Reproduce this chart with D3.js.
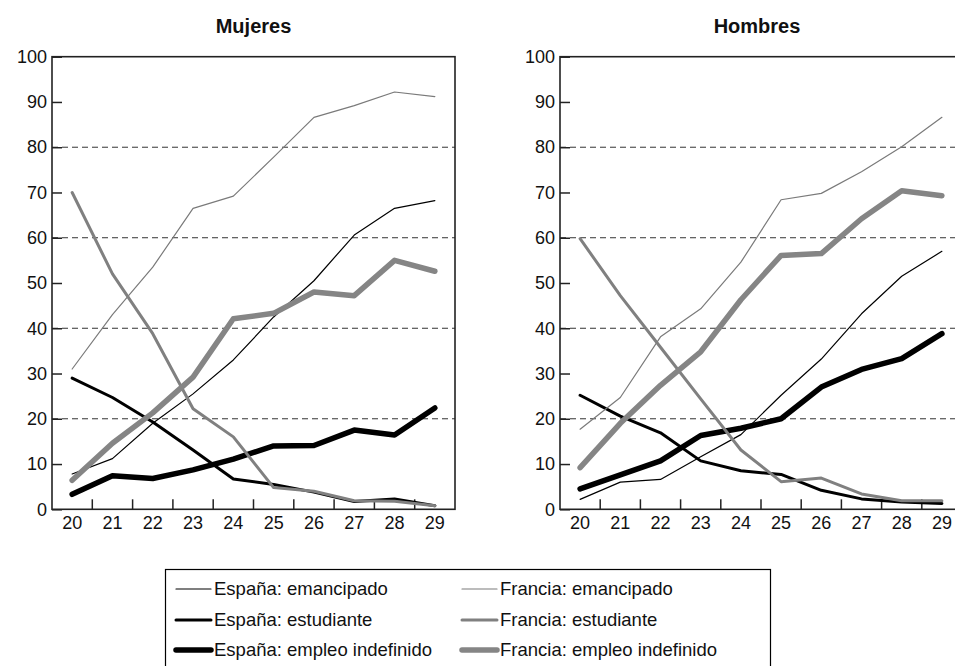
<!DOCTYPE html>
<html>
<head>
<meta charset="utf-8">
<script src="https://cdn.jsdelivr.net/npm/d3@7"></script>
<style>
  body { margin: 0; background: #fff; }
  svg { display: block; font-family: "Liberation Sans", Arial, sans-serif; }
</style>
</head>
<body>
<div id="chart"></div>
<script>
  // ages on the x axis
  var ages = [20, 21, 22, 23, 24, 25, 26, 27, 28, 29];
  var yTicks = [0, 10, 20, 30, 40, 50, 60, 70, 80, 90, 100];
  var gridValues = [20, 40, 60, 80];

  // Mujeres
  var mujEspEmancipado = [7.8, 11.2, 19, 25.5, 33, 42.5, 50.5, 60.6, 66.5, 68.2];
  var mujEspEstudiante = [29, 24.7, 19.3, 13.1, 6.7, 5.5, 3.8, 1.7, 2.3, 0.8];
  var mujEspEmpleo = [3.3, 7.4, 6.8, 8.7, 11.1, 14, 14.1, 17.5, 16.4, 22.4];
  var mujFraEmancipado = [31, 43, 53.5, 66.5, 69.2, 77.8, 86.6, 89.2, 92.2, 91.2];
  var mujFraEstudiante = [70, 52, 38.8, 22.2, 16, 4.8, 4, 1.9, 1.8, 0.8];
  var mujFraEmpleo = [6.4, 14.6, 21.3, 29.2, 42.1, 43.3, 48, 47.2, 55, 52.6];

  // Hombres
  var homEspEmancipado = [2.2, 6, 6.6, 11.6, 16.5, 25.2, 33.2, 43.2, 51.5, 57];
  var homEspEstudiante = [25.2, 20.6, 16.9, 10.7, 8.5, 7.7, 4.2, 2.3, 1.6, 1.3];
  var homEspEmpleo = [4.5, 7.6, 10.7, 16.3, 17.9, 20, 27, 30.9, 33.3, 38.8];
  var homFraEmancipado = [17.7, 24.7, 38.1, 44.3, 54.6, 68.4, 69.8, 74.6, 80.1, 86.6];
  var homFraEstudiante = [59.8, 47.2, 35.8, 24.4, 13.1, 6.1, 6.9, 3.4, 1.9, 1.9];
  var homFraEmpleo = [9.2, 19, 27.4, 34.8, 46.3, 56.1, 56.5, 64.2, 70.4, 69.3];

  var seriesNames = [
    "España: emancipado", "España: estudiante", "España: empleo indefinido",
    "Francia: emancipado", "Francia: estudiante", "Francia: empleo indefinido"
  ];

  var styles = [
    { color: "#000", width: 1.2 },
    { color: "#000", width: 3 },
    { color: "#000", width: 5.5 },
    { color: "#7a7a7a", width: 1.2 },
    { color: "#808080", width: 3 },
    { color: "#858585", width: 5.5 }
  ];

  var panels = [
    { title: "Mujeres", left: 52, right: 455,
      series: [mujEspEmancipado, mujEspEstudiante, mujEspEmpleo, mujFraEmancipado, mujFraEstudiante, mujFraEmpleo] },
    { title: "Hombres", left: 560, right: 962,
      series: [homEspEmancipado, homEspEstudiante, homEspEmpleo, homFraEmancipado, homFraEstudiante, homFraEmpleo] }
  ];

  var W = 955, H = 666;
  var plotTop = 56.7, plotBottom = 509.3;

  var svg = d3.select("#chart").append("svg")
    .attr("width", W)
    .attr("height", H);

  var y = d3.scaleLinear().domain([0, 100]).range([plotBottom, plotTop]);

  panels.forEach(function(p) {
    var x = d3.scaleBand().domain(ages).range([p.left, p.right]).padding(0);
    var cx = function(a) { return x(a) + x.bandwidth() / 2; };

    var g = svg.append("g");

    // dashed grid
    g.selectAll("line.grid")
      .data(gridValues)
      .enter().append("line")
      .attr("class", "grid")
      .attr("x1", p.left)
      .attr("x2", p.right)
      .attr("y1", function(d) { return y(d); })
      .attr("y2", function(d) { return y(d); })
      .attr("stroke", "#333")
      .attr("stroke-width", 1)
      .attr("stroke-dasharray", "6,4");

    // y axis, ticks pointing inward
    var yAxis = g.append("g")
      .attr("transform", "translate(" + p.left + ",0)")
      .call(d3.axisLeft(y).tickValues(yTicks).tickSizeInner(-10).tickSizeOuter(0).tickPadding(5));
    yAxis.select(".domain").remove();
    yAxis.selectAll("line").attr("stroke", "#222").attr("stroke-width", 1.5);
    yAxis.selectAll("text").attr("font-size", 18).attr("fill", "#111")
      .attr("font-family", "Liberation Sans, Arial, sans-serif");

    // x axis labels at category centres
    var xAxis = g.append("g")
      .attr("transform", "translate(0," + plotBottom + ")")
      .call(d3.axisBottom(x).tickSize(0).tickPadding(7));
    xAxis.select(".domain").remove();
    xAxis.selectAll("text").attr("font-size", 18).attr("fill", "#111")
      .attr("font-family", "Liberation Sans, Arial, sans-serif");

    // x ticks between categories, pointing up
    g.selectAll("line.xtick")
      .data(ages.slice(1))
      .enter().append("line")
      .attr("class", "xtick")
      .attr("x1", function(d) { return x(d); })
      .attr("x2", function(d) { return x(d); })
      .attr("y1", plotBottom)
      .attr("y2", plotBottom - 10)
      .attr("stroke", "#222")
      .attr("stroke-width", 1.5);

    // frame
    g.append("rect")
      .attr("x", p.left)
      .attr("y", plotTop)
      .attr("width", p.right - p.left)
      .attr("height", plotBottom - plotTop)
      .attr("fill", "none")
      .attr("stroke", "#222")
      .attr("stroke-width", 1.6);

    // lines
    var line = d3.line()
      .x(function(d, i) { return cx(ages[i]); })
      .y(function(d) { return y(d); });

    p.series.forEach(function(s, k) {
      g.append("path")
        .datum(s)
        .attr("d", line)
        .attr("fill", "none")
        .attr("stroke", styles[k].color)
        .attr("stroke-width", styles[k].width)
        .attr("stroke-linejoin", "round")
        .attr("stroke-linecap", "round");
    });

    // title
    svg.append("text")
      .attr("x", (p.left + p.right) / 2 - (p.title == "Hombres" ? 4 : 0))
      .attr("y", 33)
      .attr("text-anchor", "middle")
      .attr("font-size", 20)
      .attr("font-weight", "bold")
      .attr("fill", "#111")
      .text(p.title);
  });

  // legend
  var legend = svg.append("g");
  legend.append("rect")
    .attr("x", 165.5)
    .attr("y", 569.5)
    .attr("width", 605)
    .attr("height", 120)
    .attr("fill", "none")
    .attr("stroke", "#000")
    .attr("stroke-width", 1.2);

  var colX = [176, 462];
  var rowY = [589, 620, 650];

  seriesNames.forEach(function(name, k) {
    var col = Math.floor(k / 3), row = k % 3;
    var lx = colX[col], ly = rowY[row];
    legend.append("line")
      .attr("x1", lx)
      .attr("x2", lx + 35)
      .attr("y1", ly)
      .attr("y2", ly)
      .attr("stroke", styles[k].color)
      .attr("stroke-width", styles[k].width)
      .attr("stroke-linecap", "round");
    legend.append("text")
      .attr("x", lx + 38)
      .attr("y", ly)
      .attr("dy", "0.35em")
      .attr("font-size", 18.5)
      .attr("fill", "#111")
      .text(name);
  });
</script>
</body>
</html>
